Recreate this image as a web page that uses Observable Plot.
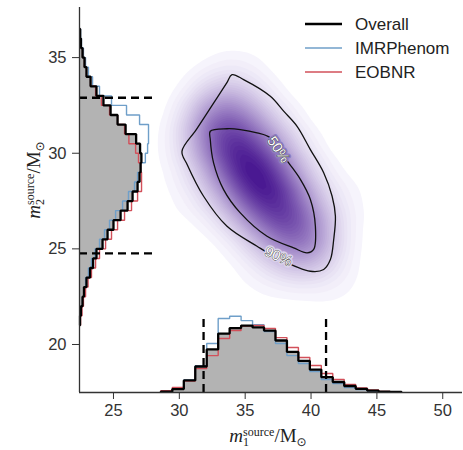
<!DOCTYPE html>
<html><head><meta charset="utf-8">
<script src="https://cdn.jsdelivr.net/npm/d3@7"></script>
<script src="https://cdn.jsdelivr.net/npm/@observablehq/plot@0.6"></script>
<style>
html,body{margin:0;padding:0;background:#fff;}
#chart{width:463px;height:450px;}
</style>
</head><body><div id="chart"></div>
<script>
// ---- axes ----
const xDomain = [22.42, 51.5];
const yDomain = [17.49, 37.62];
const xTicks = [25, 30, 35, 40, 45, 50];
const yTicks = [20, 25, 30, 35];

// ---- m1 marginal histogram (bottom), heights in axis units above baseline ----
const m1Start = 28.6, m1Bin = 0.87;
const m1Overall = [0.05,0.18,0.63,1.36,2.25,3.08,3.37,3.50,3.40,3.24,2.72,2.12,1.65,1.20,0.80,0.55,0.34,0.19,0.10,0.05,0.03];
const m1IMR     = [0.05,0.18,0.65,1.40,2.56,3.87,3.99,3.76,3.54,3.19,2.56,1.93,1.52,1.10,0.68,0.47,0.26,0.16,0.08,0.04,0.02];
const m1EOB     = [0.10,0.26,0.60,1.25,1.93,2.82,3.24,3.47,3.50,3.35,2.87,2.35,1.83,1.41,0.99,0.68,0.42,0.24,0.13,0.05,0.03];

// ---- m2 marginal histogram (left), widths in axis units right of the spine ----
const m2Start = 21.0, m2Bin = 0.5;
const m2Overall = [0.04,0.11,0.23,0.34,0.53,0.80,1.03,1.29,1.75,2.13,2.58,3.12,3.65,4.03,4.41,4.56,4.64,4.70,4.60,4.30,3.50,2.89,2.36,1.82,1.29,0.84,0.53,0.38,0.23,0.11,0.05];
const m2IMR     = [0.04,0.11,0.23,0.34,0.46,0.68,0.91,1.18,1.52,1.90,2.28,2.74,3.27,3.72,4.18,4.41,4.64,5.00,5.17,5.24,5.24,4.56,3.57,2.43,1.52,0.99,0.68,0.46,0.30,0.15,0.08];
const m2EOB     = [0.08,0.19,0.30,0.46,0.65,0.91,1.22,1.52,1.98,2.43,2.89,3.42,3.95,4.41,4.71,4.71,4.64,4.48,4.26,3.75,3.42,2.89,2.28,1.67,1.22,0.84,0.53,0.38,0.23,0.11,0.05];

// ---- 90% credible bounds (dashed) ----
const m1Bounds = [31.84, 41.14];
const m2Bounds = [24.76, 32.9];
const m1DashTop = 21.31;
const m2DashEnd = 28.04;

// ---- 2D posterior: weighted sample locations ----
const postM1 = [32.6,33.6,34.6,35.6,36.6,37.6,38.6,39.5,40.4, 34.6,35.9,37.3,38.6,39.8,40.8, 32.4,33.6,34.9,36.3,37.8,39.3, 31.3,33.3, 34.5,42.3,42.0,30.8,36.5];
const postM2 = [31.8,30.8,29.9,29.0,28.1,27.2,26.2,25.4,24.7, 32.5,31.5,30.3,28.9,27.4,25.9, 29.2,28.1,27.0,26.0,25.1,24.3, 30.6,33.0, 34.2,27.5,23.2,27.8,23.8];
const postW  = [3.5,4.2,5.0,5.2,5.0,4.2,3.3,2.2,1.2, 1.6,2.3,2.6,2.4,1.9,1.2, 1.6,2.1,2.1,1.9,1.4,0.8, 1.6,1.3, 0.4,0.4,0.3,0.3,0.4];

// ---- credible contours [m1, m2] ----
const contour90 = [[34.0,34.11],[34.88,33.85],[36.91,32.98],[37.92,32.20],[38.94,31.41],[39.95,30.19],[40.96,28.98],[41.60,27.75],[41.85,26.71],[41.72,25.49],[41.47,24.44],[40.96,23.92],[39.95,23.83],[37.42,24.53],[35.90,25.14],[33.62,26.18],[31.84,27.75],[30.60,29.40],[30.20,30.10],[31.30,31.25],[32.60,32.62],[33.60,33.68]];
const contour50 = [[32.35,31.15],[33.62,31.28],[34.63,31.24],[35.90,31.07],[36.91,30.81],[38.30,29.50],[39.19,28.63],[39.95,27.58],[40.33,26.18],[40.20,24.97],[39.70,24.79],[38.68,25.05],[36.66,25.66],[34.63,26.88],[33.36,28.10],[32.60,29.50],[32.35,30.72]];
const contourLabels = [
  {text: "50%", m1: 37.52, m2: 30.19, angle: 56},
  {text: "90%", m1: 37.52, m2: 24.60, angle: 25}
];

// ---- legend ----
const seriesNames = ["Overall", "IMRPhenom", "EOBNR"];
const seriesColors = ["#000000", "#6f9fc9", "#d2505a"];

// ---------------------------------------------------------------
const posterior = postM1.map((m1, i) => ({m1, m2: postM2[i], w: postW[i]}));
const base1 = yDomain[0], base2 = xDomain[0];
function stepBottom(vals) {
  const pts = [[m1Start, base1]];
  vals.forEach((h, i) => { const lo = m1Start + i * m1Bin; pts.push([lo, base1 + h], [lo + m1Bin, base1 + h]); });
  pts.push([m1Start + vals.length * m1Bin, base1]);
  return pts;
}
function stepLeft(vals) {
  const pts = [[base2, m2Start]];
  vals.forEach((w, i) => { const lo = m2Start + i * m2Bin; pts.push([base2 + w, lo], [base2 + w, lo + m2Bin]); });
  pts.push([base2, m2Start + vals.length * m2Bin]);
  return pts;
}
const X = d => d[0], Y = d => d[1];
const step = (data, color, w) => Plot.line(data, {x: X, y: Y, stroke: color, strokeWidth: w, strokeLinejoin: "miter", strokeLinecap: "butt"});
const grayFill = d => Plot.line(d, {x: X, y: Y, fill: "#b3b3b3", stroke: "none"});

const plot = Plot.plot({
  width: 463, height: 450,
  marginLeft: 79, marginRight: 1, marginTop: 7, marginBottom: 58,
  style: {fontFamily: "'Liberation Sans', Arial, sans-serif", fontSize: "16.5px", color: "#333", background: "#fff"},
  x: {domain: xDomain, ticks: xTicks, tickSize: 7, tickPadding: 5, label: null},
  y: {domain: yDomain, ticks: yTicks, tickSize: 7, tickPadding: 6, label: null},
  color: {type: "linear", range: ["#fbfaff", "#4a1992"]},
  marks: [
    Plot.density(posterior, {x: "m1", y: "m2", weight: "w", bandwidth: 19, thresholds: 40, fill: "density", stroke: "none"}),
    Plot.line(contour90, {x: X, y: Y, curve: "catmull-rom-closed", stroke: "#111", strokeWidth: 1.3}),
    Plot.line(contour50, {x: X, y: Y, curve: "catmull-rom-closed", stroke: "#111", strokeWidth: 1.3}),
    Plot.text(contourLabels, {x: "m1", y: "m2", text: "text", rotate: "angle", fontSize: 14, fill: "white", stroke: d => d.text === "50%" ? "#8d7bbf" : "#d9d2ea", strokeWidth: 4, strokeLinejoin: "round"}),
    Plot.text(contourLabels, {x: "m1", y: "m2", text: "text", rotate: "angle", fontSize: 14, fill: "white", stroke: "#333", strokeWidth: 0.8}),
    grayFill(stepBottom(m1Overall)),
    grayFill(stepLeft(m2Overall)),
    step(stepBottom(m1IMR), seriesColors[1], 1.4),
    step(stepBottom(m1EOB), seriesColors[2], 1.4),
    step(stepLeft(m2IMR), seriesColors[1], 1.4),
    step(stepLeft(m2EOB), seriesColors[2], 1.4),
    step(stepBottom(m1Overall), seriesColors[0], 2.3),
    step(stepLeft(m2Overall), seriesColors[0], 2.3),
    Plot.ruleX(m1Bounds, {y1: yDomain[0], y2: m1DashTop, stroke: "#000", strokeWidth: 2.3, strokeDasharray: "8,5"}),
    Plot.ruleY(m2Bounds, {x1: xDomain[0], x2: m2DashEnd, stroke: "#000", strokeWidth: 2.3, strokeDasharray: "8,5"}),
    Plot.ruleX([xDomain[0]], {stroke: "#333", strokeWidth: 1.3}),
    Plot.ruleY([yDomain[0]], {stroke: "#333", strokeWidth: 1.3})
  ]
});
document.getElementById("chart").appendChild(plot);

const svg = d3.select(plot);
svg.selectAll('g[aria-label="x-axis"] line, g[aria-label="y-axis"] line').attr("stroke-width", 1.3);

function massLabel(g, idx) {
  const t = g.append("text").attr("font-family", "'Liberation Serif', 'DejaVu Serif', serif").attr("font-size", 19).attr("fill", "#222").attr("text-anchor", "middle");
  t.append("tspan").attr("font-style", "italic").text("m");
  t.append("tspan").attr("font-size", 12).attr("dy", 4).text(idx);
  t.append("tspan").attr("font-size", 12).attr("dy", -10).attr("dx", -6).text("source");
  t.append("tspan").attr("dy", 6).text("/M");
  t.append("tspan").attr("font-size", 12).attr("dy", 4).attr("font-family", "'DejaVu Sans', sans-serif").text("\u2299");
  return t;
}
massLabel(svg.append("g").attr("transform", "translate(268,442)"), "1");
massLabel(svg.append("g").attr("transform", "translate(40,180) rotate(-90)"), "2");

const lg = svg.append("g").attr("font-family", "'Liberation Sans', Arial, sans-serif").attr("font-size", 17).attr("fill", "#222").attr("text-anchor", "start");
const rows = [24, 48, 72];
seriesNames.forEach((name, i) => {
  lg.append("line").attr("x1", 305).attr("x2", 342).attr("y1", rows[i]).attr("y2", rows[i])
    .attr("stroke", seriesColors[i]).attr("stroke-width", i === 0 ? 2.5 : 1.5);
  lg.append("text").attr("x", 355).attr("y", rows[i]).attr("dy", "0.35em").text(name);
});
</script>
</body></html>
